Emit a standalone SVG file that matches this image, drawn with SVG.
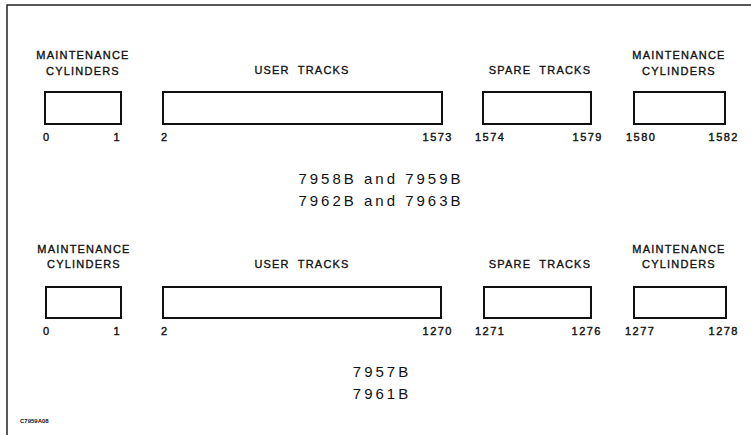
<svg xmlns="http://www.w3.org/2000/svg" width="751" height="435" viewBox="0 0 751 435">
<style>
.box{fill:none;stroke:#111;stroke-width:2}
.frame{fill:none;stroke:#222;stroke-width:1.5}
.lb{font-family:"Liberation Sans",Arial,sans-serif;font-size:11px;fill:#111;stroke:#111;stroke-width:0.35;letter-spacing:1.2px;word-spacing:4px;text-anchor:middle}
.num{font-family:"Liberation Sans",Arial,sans-serif;font-size:11px;fill:#111;stroke:#111;stroke-width:0.4;letter-spacing:1.5px}
.mid{font-family:"Liberation Sans",Arial,sans-serif;font-size:15px;fill:#111;letter-spacing:3px;text-anchor:middle}
.code{font-family:"Liberation Sans",Arial,sans-serif;font-size:6px;font-weight:bold;fill:#111}
</style>
<rect width="751" height="435" fill="#fff"/>
<g id="frame"><path class="frame" d="M7,435 V5 H751"/></g>
<g id="connectors"></g>
<g id="top-maint-left">
<text class="lb" x="83" y="59">MAINTENANCE</text>
<text class="lb" x="83" y="75">CYLINDERS</text>
<rect class="box" x="45" y="92" width="76" height="32"/>
<text class="num" x="43" y="141">0</text>
<text class="num" x="121" y="141" text-anchor="end">1</text>
</g>
<g id="top-user">
<text class="lb" x="302" y="74">USER TRACKS</text>
<rect class="box" x="163" y="92" width="279" height="32"/>
<text class="num" x="161" y="141">2</text>
<text class="num" x="453" y="141" text-anchor="end">1573</text>
</g>
<g id="top-spare">
<text class="lb" x="540" y="74">SPARE TRACKS</text>
<rect class="box" x="483" y="92" width="108" height="32"/>
<text class="num" x="475" y="141">1574</text>
<text class="num" x="603" y="141" text-anchor="end">1579</text>
</g>
<g id="top-maint-right">
<text class="lb" x="679" y="59">MAINTENANCE</text>
<text class="lb" x="679" y="75">CYLINDERS</text>
<rect class="box" x="634" y="92" width="91" height="32"/>
<text class="num" x="626" y="141">1580</text>
<text class="num" x="739" y="141" text-anchor="end">1582</text>
</g>
<g id="top-models">
<text class="mid" x="381" y="184">7958B and 7959B</text>
<text class="mid" x="381" y="206">7962B and 7963B</text>
</g>
<g id="bot-maint-left">
<text class="lb" x="84" y="253">MAINTENANCE</text>
<text class="lb" x="84" y="268">CYLINDERS</text>
<rect class="box" x="46" y="287" width="75" height="31"/>
<text class="num" x="43" y="335">0</text>
<text class="num" x="121" y="335" text-anchor="end">1</text>
</g>
<g id="bot-user">
<text class="lb" x="302" y="268">USER TRACKS</text>
<rect class="box" x="163" y="287" width="278" height="31"/>
<text class="num" x="161" y="335">2</text>
<text class="num" x="453" y="335" text-anchor="end">1270</text>
</g>
<g id="bot-spare">
<text class="lb" x="540" y="268">SPARE TRACKS</text>
<rect class="box" x="484" y="287" width="107" height="31"/>
<text class="num" x="475" y="335">1271</text>
<text class="num" x="602" y="335" text-anchor="end">1276</text>
</g>
<g id="bot-maint-right">
<text class="lb" x="679" y="253">MAINTENANCE</text>
<text class="lb" x="679" y="268">CYLINDERS</text>
<rect class="box" x="634" y="287" width="92" height="31"/>
<text class="num" x="625" y="335">1277</text>
<text class="num" x="739" y="335" text-anchor="end">1278</text>
</g>
<g id="bot-models">
<text class="mid" x="382" y="377">7957B</text>
<text class="mid" x="382" y="399">7961B</text>
</g>
<text class="code" x="20" y="423">C7959A08</text>
</svg>
